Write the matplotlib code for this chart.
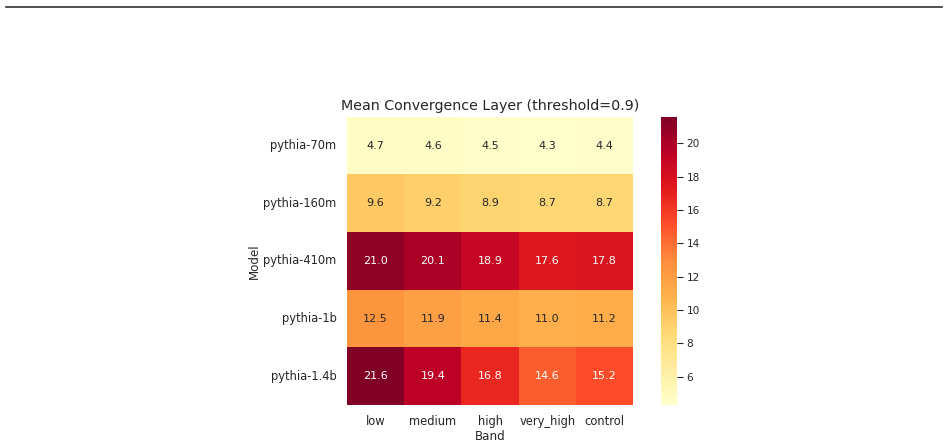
import numpy as np
import matplotlib
matplotlib.use("Agg")
import matplotlib.pyplot as plt
import seaborn as sns
from matplotlib.lines import Line2D

models = ["pythia-70m", "pythia-160m", "pythia-410m", "pythia-1b", "pythia-1.4b"]
bands = ["low", "medium", "high", "very_high", "control"]
layer_70m = [4.7, 4.6, 4.5, 4.3, 4.4]
layer_160m = [9.6, 9.2, 8.9, 8.7, 8.7]
layer_410m = [21.0, 20.1, 18.9, 17.6, 17.8]
layer_1b = [12.5, 11.9, 11.4, 11.0, 11.2]
layer_14b = [21.6, 19.4, 16.8, 14.6, 15.2]

vals = np.array([layer_70m, layer_160m, layer_410m, layer_1b, layer_14b])

txt = "#262626"
plt.rcParams["text.color"] = txt
plt.rcParams["axes.labelcolor"] = txt
plt.rcParams["xtick.color"] = txt
plt.rcParams["ytick.color"] = txt

fig = plt.figure(figsize=(9.48, 4.46), dpi=100)
ax = fig.add_axes([0.366, 0.092, 0.302, 0.646])
cax = fig.add_axes([0.697, 0.092, 0.0169, 0.646])

sns.heatmap(vals, ax=ax, cbar_ax=cax, cmap="YlOrRd", annot=True, fmt=".1f",
            xticklabels=bands, yticklabels=models, annot_kws={"fontsize": 8})
ax.tick_params(length=0, labelsize=8.3, pad=7.5)
ax.set_yticklabels(models, rotation=0)
ax.set_xticklabels(bands, rotation=0)
ax.set_xlabel("Band", fontsize=8.6, labelpad=1)
ax.set_ylabel("Model", fontsize=8.6, labelpad=2)
ax.set_title("Mean Convergence Layer (threshold=0.9)", fontsize=10.3, pad=5)
cax.tick_params(labelsize=7.6, length=4, pad=3)
cax.set_frame_on(False)

# line at the top of the figure
fig.add_artist(Line2D([0.006, 0.994], [0.984, 0.984], color="#333333", lw=1.2,
                      transform=fig.transFigure))

fig.savefig("out.png", dpi=100)
